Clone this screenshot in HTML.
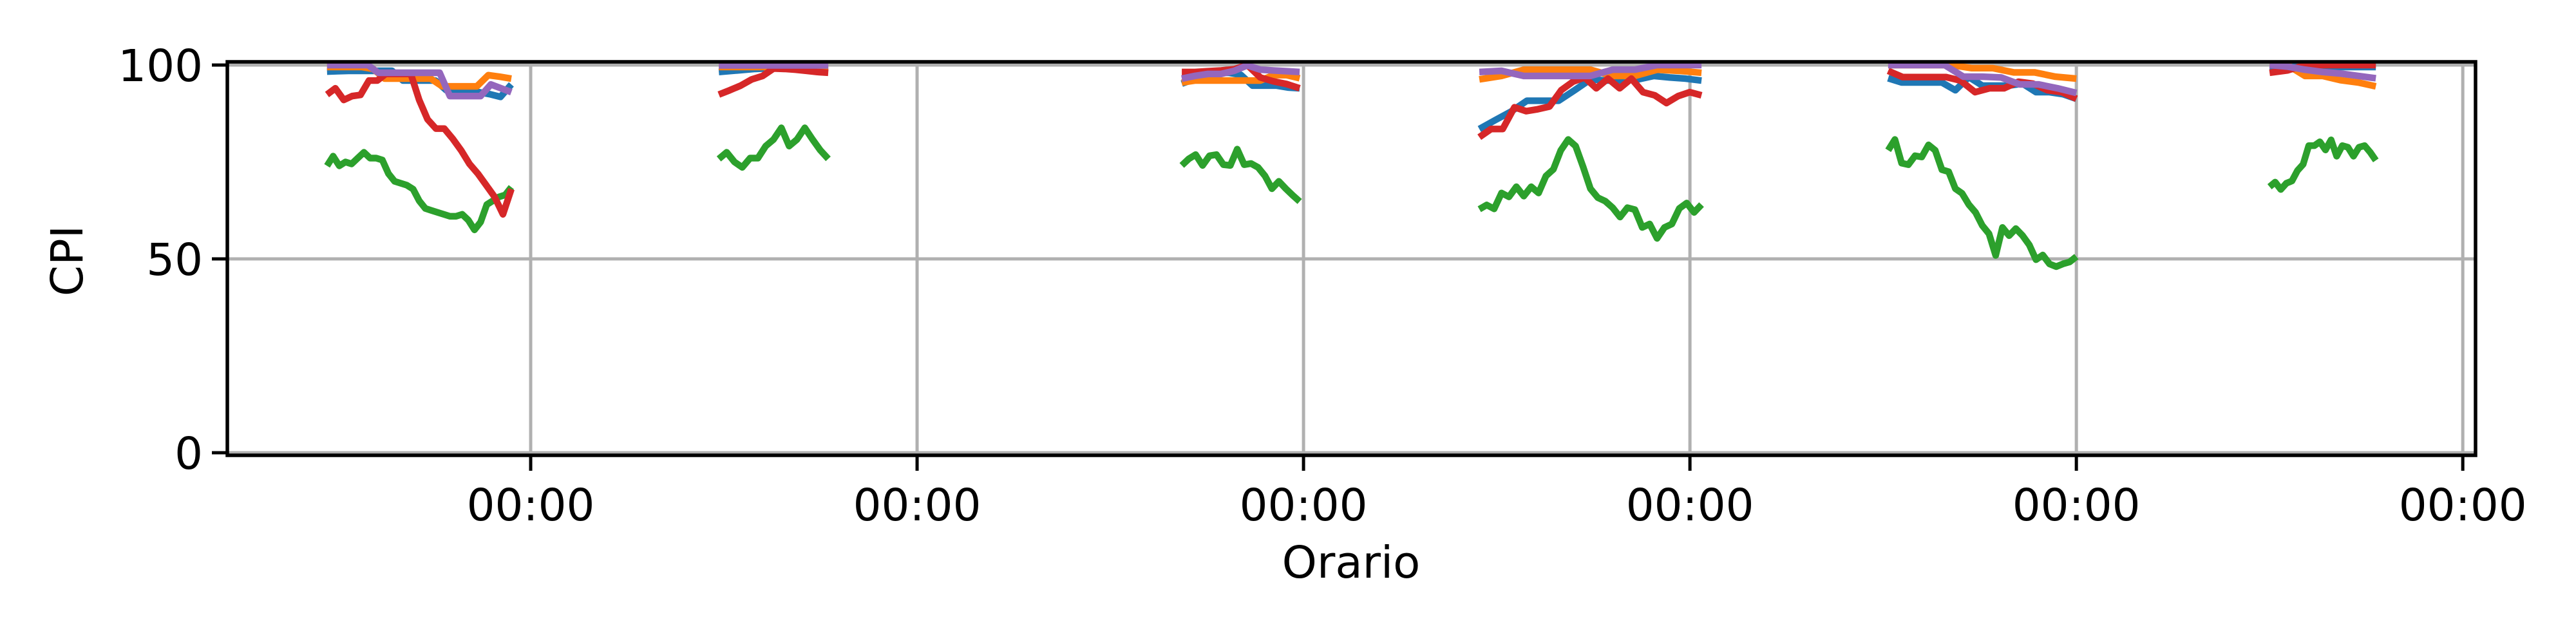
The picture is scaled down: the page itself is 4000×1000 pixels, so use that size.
<!DOCTYPE html>
<html><head><meta charset="utf-8"><style>
html,body{margin:0;padding:0;background:#fff;}
svg{display:block;font-family:"DejaVu Sans","Liberation Sans",sans-serif;}
</style></head><body>
<svg id="chart" width="4000" height="1000" viewBox="0 0 4000 1000" xmlns="http://www.w3.org/2000/svg">
<rect x="0" y="0" width="4000" height="1000" fill="#fff"/>
<g id="grid"></g>
<g id="series"></g>
<g id="axes"></g>
<text x="2098" y="897" font-size="69" text-anchor="middle">Orario</text>
<text x="0" y="0" font-size="69" text-anchor="middle" transform="translate(128,405) rotate(-90)">CPI</text>
</svg>
<script>
// ---- data ----
const yTicks = [0, 50, 100];
const xTickDays = [0, 1, 2, 3, 4, 5];
const xTickLabels = ["00:00", "00:00", "00:00", "00:00", "00:00", "00:00"];
const segStart = [-0.527, 0.487, 1.685, 2.455, 3.513, 4.50];
const segEnd = [-0.05, 0.77, 1.99, 3.03, 4.0, 4.775];
const seriesNames = ["blue", "orange", "green", "red", "purple"];
const seriesColors = ["#1f77b4", "#ff7f0e", "#2ca02c", "#d62728", "#9467bd"];
const blueVals = [
 [98.3,98.4,98.5,98.5,98.5,98.5,98.5,96,96,96,96,93.5,93.5,93.5,93,92.5,91.8,95],
 [98.2,98.6,99,99.2,99.4,99.5,99.6],
 [95.2,96.3,97,98,98,97.5,94.7,94.7,94.7,94.2,94],
 [83.5,85.8,88,90.8,90.8,90.8,93.5,96.3,96,96,96.3,97.2,96.8,96.5,96],
 [96.6,95.5,95.5,95.5,95.5,93.5,96.9,94.7,94.7,94.7,95.2,93,93,92.5,91.3],
 [99.5,99.5,99.5,99.5,99.5]
];
const orangeVals = [
 [99.5,99.5,99.5,99.5,99,96.5,96.5,96.5,96.5,96.5,94.5,94.5,94.5,94.5,97.4,97,96.5],
 [99.5,99.5,99.5,99.5,99.5,99.5],
 [95.5,96,96,96,96,96,96,97.4,97.4,96.6],
 [96.3,97.2,98.8,98.8,98.8,98.8,97.2,97.2,98.8,98.5,98],
 [100,100,100,100,99.2,99.2,98.1,98.1,97,96.5],
 [100,100,97.2,97.2,96.1,95.5,94.5]
];
const greenVals = [
 [74,76.5,74,75,74.5,76,77.5,76,76,75.5,72,70,69.5,69,68,65,63,62.5,62,61.5,61,61,61.5,60,57.5,59.5,64,65,66,66.5,68.5],
 [75.8,77.5,75,73.6,76,76,79.1,80.8,83.8,79.1,80.8,83.8,80.8,78,75.8],
 [74.1,75.8,76.9,74.1,76.6,76.9,74.3,74.1,78.3,74.3,74.6,73.6,71.4,68.1,70,68.1,66.4,64.8],
 [62.8,63.9,62.9,67,66,68.6,66.2,68.6,67,71.4,73.1,78,80.8,79.1,73.8,68.1,65.8,64.9,63.2,60.8,63.2,62.7,58.1,59,55.3,58.1,59,63,64.4,62,64],
 [78,80.8,74.7,74.3,76.6,76.3,79.4,78,73,72.5,68.1,66.9,64,62,58.6,56.5,50.9,58.1,56,57.8,56,53.6,49.8,51,48.7,48,48.7,49.2,50.6],
 [68.6,69.8,67.9,69.5,70.1,72.8,74.4,79.2,79.2,80.2,78.1,80.7,76.5,79.2,78.8,76.5,78.8,79.2,77.5,75.4]
];
const redVals = [
 [92.4,94,91,92,92.3,96,96,97.7,97.7,97.7,97.7,91,86,83.6,83.6,81,78,74.5,72,69,66,61.5,68],
 [92.4,93.5,94.7,96.3,97.2,99.1,99,98.8,98.5,98.2,98],
 [98.2,98.2,98.4,98.6,98.9,100,96.8,95.8,95.1,94],
 [81.4,83.5,83.5,89.1,88.1,88.6,89.3,93.5,95.7,96.8,94,96.5,94,96.5,93,92.2,90.2,92,93,92.2],
 [98.5,96.9,96.9,96.9,96.9,96,93,94,94,95.7,95.2,93.5,93,91.3],
 [98,98.6,100,100,100,100,100]
];
const purpleVals = [
 [100,100,100,100,100,98,98,98,98,98,98,98,92,92,92,92,95,94,93],
 [99.9,99.9,99.9,99.9,99.9,99.9],
 [96.5,97.2,97.7,97.7,98.5,99.9,98.8,98.6,98.4,98.2],
 [98.2,98.5,97.2,97.2,97.2,97.2,98.8,98.8,100,100,100],
 [100,100,100,100,97,97,96.8,95,95,94,92.8],
 [100,99.6,98.8,98.2,97.8,97.2,96.6]
];
const seriesVals = [blueVals, orangeVals, greenVals, redVals, purpleVals];

// ---- axis functions ----
const L = 353, R = 3844, T = 96, B = 707;
const dayMin = -0.785, dayMax = 5.033;
function xScale(d){ return L + (d - dayMin) / (dayMax - dayMin) * (R - L); }
function yScale(v){ return 703 - v * 6.02; }

const NS = "http://www.w3.org/2000/svg";
const grid = document.getElementById('grid');
const axes = document.getElementById('axes');
const sg = document.getElementById('series');
function mk(tag, attrs, parent){
  const e = document.createElementNS(NS, tag);
  for (const k in attrs) e.setAttribute(k, attrs[k]);
  parent.appendChild(e); return e;
}
// grid
yTicks.forEach(v => {
  const y = yScale(v);
  const g = mk('line', {x1:L, x2:R, y1:y, y2:y, stroke:'#b0b0b0', 'stroke-width':5}, grid);
  
  
  const t = mk('line', {x1:L-24, x2:L, y1:y, y2:y, stroke:'#000', 'stroke-width':5}, axes);
  
  
  const lb = mk('text', {x:L-38, y:y+25, 'font-size':69, 'text-anchor':'end'}, axes);
  lb.textContent = String(v);
  
  
});
xTickDays.forEach((d, i) => {
  const x = xScale(d);
  const g = mk('line', {x1:x, x2:x, y1:T, y2:B, stroke:'#b0b0b0', 'stroke-width':5}, grid);
  
  
  const t = mk('line', {x1:x, x2:x, y1:B, y2:B+24, stroke:'#000', 'stroke-width':5}, axes);
  
  
  const lb = mk('text', {x:x, y:808, 'font-size':69, 'text-anchor':'middle'}, axes);
  lb.textContent = xTickLabels[i];
  
  
});
const frame = mk('rect', {x:L, y:T, width:R-L, height:B-T, fill:'none', stroke:'#000', 'stroke-width':5.5}, axes);



// series
const clip = mk('clipPath', {id:'pc'}, mk('defs', {}, document.getElementById('chart')));
mk('rect', {x:L, y:T, width:R-L, height:B-T}, clip);
sg.setAttribute('clip-path', 'url(#pc)');
seriesVals.forEach((segs, si) => {
  segs.forEach((vals, k) => {
    const n = vals.length;
    const pts = vals.map((v, j) => {
      const d = segStart[k] + (segEnd[k] - segStart[k]) * j / (n - 1);
      return xScale(d).toFixed(1) + ',' + yScale(v).toFixed(1);
    }).join(' ');
    const pl = mk('polyline', {points:pts, fill:'none', stroke:seriesColors[si], 'stroke-width':10.4, 'stroke-linejoin':'round', 'stroke-linecap':'butt'}, sg);
    
    
  });
});
</script>
</body></html>
